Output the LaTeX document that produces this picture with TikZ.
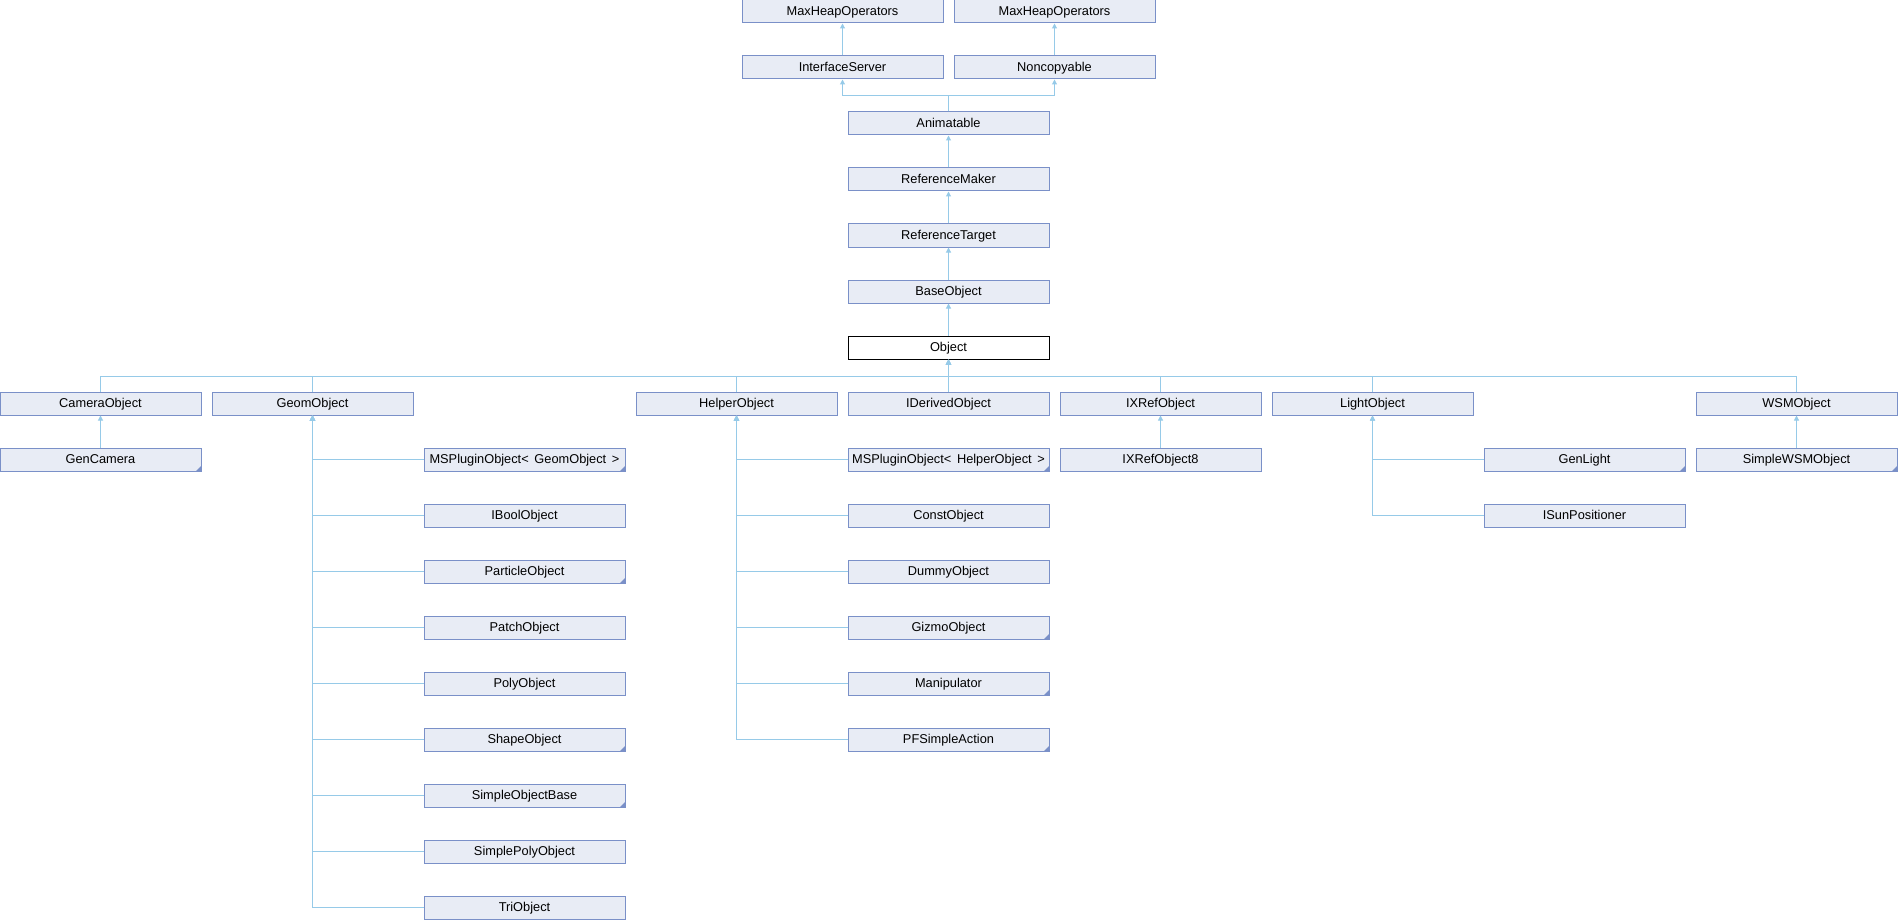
\documentclass[tikz,border=0pt]{standalone}
\usepackage{fontspec}
\setmainfont{Liberation Sans}
\usetikzlibrary{arrows.meta}
\definecolor{boxfill}{HTML}{E8ECF5}
\definecolor{boxline}{HTML}{7A90C8}
\definecolor{edgec}{HTML}{96CAE8}
\begin{document}
\begin{tikzpicture}[x=1pt,y=-1pt,
  cls/.style={draw=boxline,fill=boxfill,line width=1pt,minimum width=201pt,minimum height=23pt,inner sep=0pt,
    text height=8.6pt,text depth=1.4pt,font=\fontsize{12.8}{15}\selectfont,text=black},
  cur/.style={cls,draw=black,fill=white},
  edge/.style={draw=edgec,line width=1pt,-{Triangle[width=5pt,length=5pt]}}]
\useasboundingbox (0,0) rectangle (1898,920);
% top part
\node[cls] (mh1) at (842.5,11.5) {MaxHeapOperators};
\node[cls] (mh2) at (1054.5,11.5) {MaxHeapOperators};
\node[cls] (iserv) at (842.5,67.5) {InterfaceServer};
\node[cls] (noncp) at (1054.5,67.5) {Noncopyable};
\node[cls] (anim) at (948.5,123.5) {Animatable};
\node[cls] (rmaker) at (948.5,179.5) {ReferenceMaker};
\node[cls] (rtarget) at (948.5,235.5) {ReferenceTarget};
\node[cls] (base) at (948.5,291.5) {BaseObject};
\node[cur] (obj) at (948.5,347.5) {Object};
% row 7
\node[cls] (cam) at (100.5,403.5) {CameraObject};
\node[cls] (geom) at (312.5,403.5) {GeomObject};
\node[cls] (helper) at (736.5,403.5) {HelperObject};
\node[cls] (ideriv) at (948.5,403.5) {IDerivedObject};
\node[cls] (ixref) at (1160.5,403.5) {IXRefObject};
\node[cls] (light) at (1372.5,403.5) {LightObject};
\node[cls] (wsm) at (1796.5,403.5) {WSMObject};
% row 8 direct children
\node[cls] (gencam) at (100.5,459.5) {GenCamera};
\node[cls] (ixref8) at (1160.5,459.5) {IXRefObject8};
\node[cls] (swsm) at (1796.5,459.5) {SimpleWSMObject};
% geom children
\node[cls] (msgeom) at (524.5,459.5) {MSPluginObject<\, GeomObject \,>};
\node[cls] (ibool) at (524.5,515.5) {IBoolObject};
\node[cls] (particle) at (524.5,571.5) {ParticleObject};
\node[cls] (patch) at (524.5,627.5) {PatchObject};
\node[cls] (poly) at (524.5,683.5) {PolyObject};
\node[cls] (shape) at (524.5,739.5) {ShapeObject};
\node[cls] (sobase) at (524.5,795.5) {SimpleObjectBase};
\node[cls] (spoly) at (524.5,851.5) {SimplePolyObject};
\node[cls] (tri) at (524.5,907.5) {TriObject};
% helper children
\node[cls] (mshelp) at (948.5,459.5) {MSPluginObject<\, HelperObject \,>};
\node[cls] (const) at (948.5,515.5) {ConstObject};
\node[cls] (dummy) at (948.5,571.5) {DummyObject};
\node[cls] (gizmo) at (948.5,627.5) {GizmoObject};
\node[cls] (manip) at (948.5,683.5) {Manipulator};
\node[cls] (pfsa) at (948.5,739.5) {PFSimpleAction};
% light children
\node[cls] (genlight) at (1584.5,459.5) {GenLight};
\node[cls] (isun) at (1584.5,515.5) {ISunPositioner};
% corner markers
\foreach \n in {gencam,msgeom,particle,shape,sobase,mshelp,gizmo,manip,pfsa,genlight,swsm}
  \fill[boxline] (\n.south east) -- ++(-6,0) -- ++(6,-6) -- cycle;
% bus coordinates
\coordinate (busA) at (948.5,96);
\coordinate (busO) at (948.5,376);
% edges
\draw[edge] (iserv.north) -- (mh1.south);
\draw[edge] (noncp.north) -- (mh2.south);
\draw[edge] (anim.north) |- (busA) -| (iserv.south);
\draw[edge] (anim.north) |- (busA) -| (noncp.south);
\draw[edge] (rmaker.north) -- (anim.south);
\draw[edge] (rtarget.north) -- (rmaker.south);
\draw[edge] (base.north) -- (rtarget.south);
\draw[edge] (obj.north) -- (base.south);
\foreach \n in {cam,geom,helper,ideriv,ixref,light,wsm}
  \draw[edge] (\n.north) |- (busO) -- (obj.south);
\draw[edge] (gencam.north) -- (cam.south);
\draw[edge] (ixref8.north) -- (ixref.south);
\draw[edge] (swsm.north) -- (wsm.south);
\foreach \n in {msgeom,ibool,particle,patch,poly,shape,sobase,spoly,tri}
  \draw[edge] (\n.west) -| (geom.south);
\foreach \n in {mshelp,const,dummy,gizmo,manip,pfsa}
  \draw[edge] (\n.west) -| (helper.south);
\foreach \n in {genlight,isun}
  \draw[edge] (\n.west) -| (light.south);
\end{tikzpicture}
\end{document}
